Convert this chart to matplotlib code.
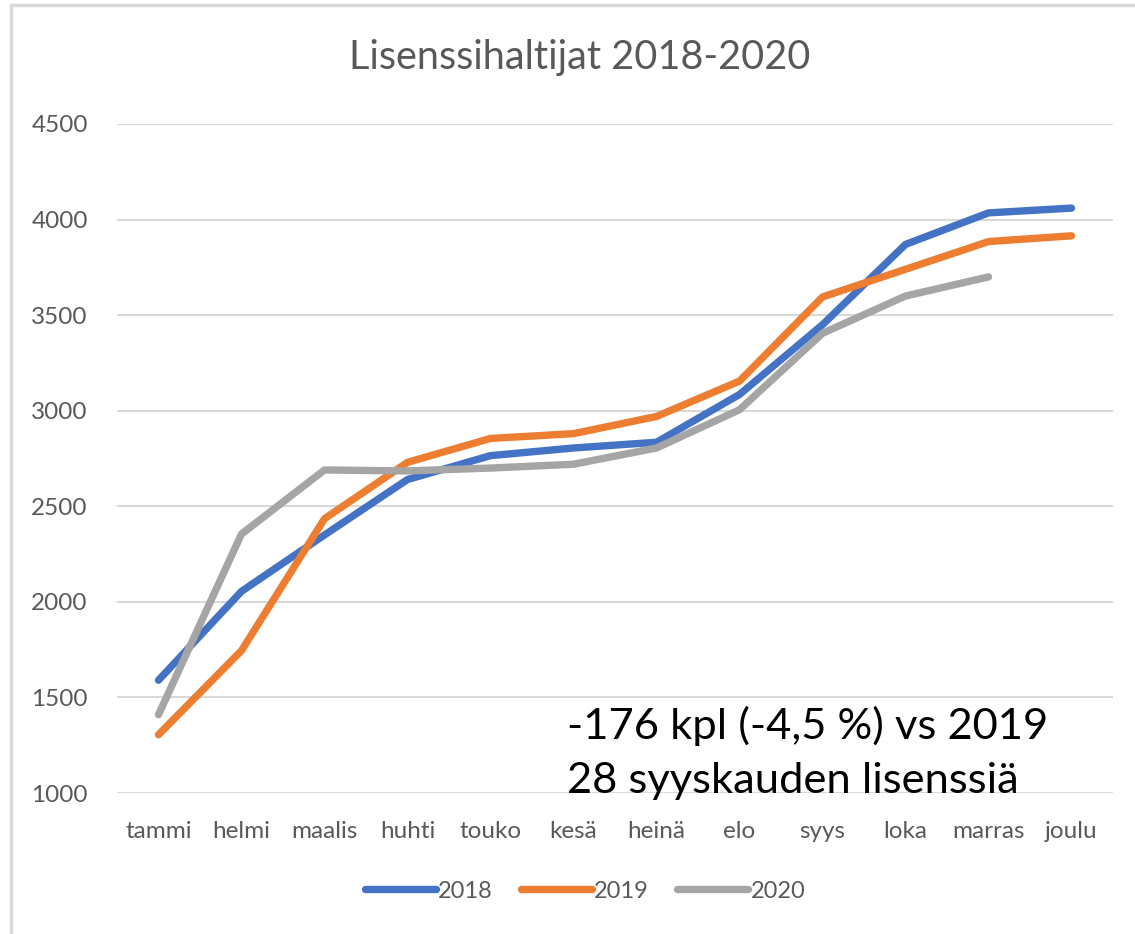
import matplotlib.pyplot as plt
from matplotlib.patches import Rectangle

plt.rcParams['font.family'] = ['Lato', 'DejaVu Sans']

months = ['tammi', 'helmi', 'maalis', 'huhti', 'touko', 'kesä', 'heinä',
          'elo', 'syys', 'loka', 'marras', 'joulu']
v2018 = [1590, 2055, 2350, 2640, 2765, 2805, 2835, 3085, 3450, 3870, 4035, 4060]
v2019 = [1305, 1745, 2435, 2730, 2855, 2880, 2970, 3155, 3595, 3740, 3885, 3915]
v2020 = [1410, 2355, 2690, 2685, 2700, 2720, 2805, 3005, 3405, 3600, 3700]
yticks = [1000, 1500, 2000, 2500, 3000, 3500, 4000, 4500]
note = '-176 kpl (-4,5 %) vs 2019\n28 syyskauden lisenssiä'

grey = '#595959'
fig = plt.figure(figsize=(11.35, 9.34), dpi=100)
ax = fig.add_axes([117/1135, 1-793/934, (1113-117)/1135, (793-124)/934])

# chart frame (cut off at right and bottom)
fig.patches.append(Rectangle((11/1135, -0.1), 1.2, 1-5/934+0.1,
                             transform=fig.transFigure, fill=False,
                             edgecolor='#d9d9d9', lw=2.5))

x = list(range(len(months)))
ax.plot(x, v2018, color='#4472C4', lw=5.3, solid_capstyle='round', label='2018')
ax.plot(x, v2019, color='#ED7D31', lw=5.3, solid_capstyle='round', label='2019')
ax.plot(x[:len(v2020)], v2020, color='#A5A5A5', lw=5.3, solid_capstyle='round', label='2020')

ax.set_xlim(-0.5, 11.5)
ax.set_ylim(1000, 4500)
ax.set_yticks(yticks)
ax.set_xticks(x)
ax.set_xticklabels(months)
ax.grid(axis='y', color='#d9d9d9', lw=1.5, zorder=0)
ax.set_axisbelow(True)
for s in ax.spines.values():
    s.set_visible(False)
ax.tick_params(length=0, labelsize=17.5, labelcolor=grey)
ax.tick_params(axis='y', pad=21)
ax.tick_params(axis='x', pad=20)

fig.text(580/1135, 1-58/934, 'Lisenssihaltijat 2018-2020', ha='center', va='center',
         fontsize=28.5, color=grey)

ax.text(0.4518, 1000, note, transform=ax.get_yaxis_transform(), fontsize=31.3,
        color='black', ha='left', va='baseline', linespacing=1.5)

fig.legend(loc='center', bbox_to_anchor=(585/1135, 1-891/934), ncol=3, frameon=False,
           fontsize=17, handlelength=3.0, handletextpad=0.1, columnspacing=1.2,
           labelcolor=grey)

fig.savefig('out.png', dpi=100, facecolor='white')
